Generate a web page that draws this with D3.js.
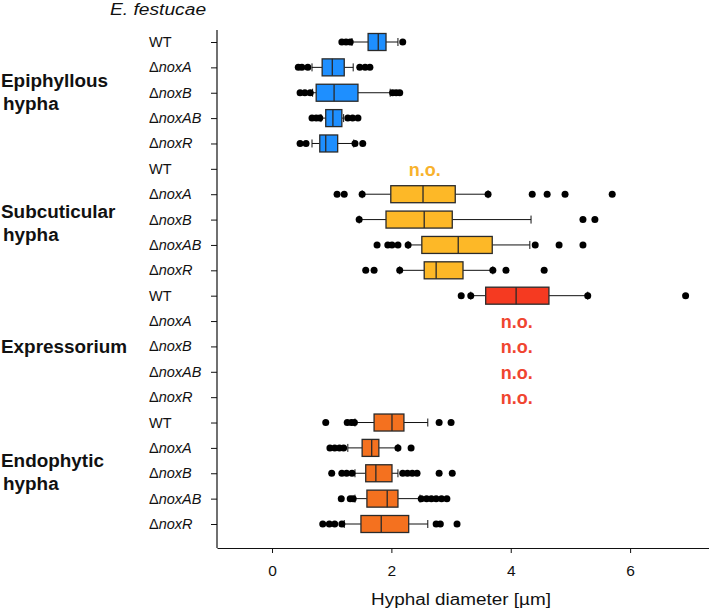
<!DOCTYPE html>
<html><head><meta charset="utf-8">
<script src="https://cdn.jsdelivr.net/npm/d3@7"></script>
<style>
body{margin:0;background:#fff}
svg{display:block}
text{font-family:Arial,"Liberation Sans",Helvetica,sans-serif;fill:#111}
</style>
</head><body>
<svg id="chart" width="709" height="610"></svg>
<script>
// ---------- DATA ----------
const tissues = [["Epiphyllous","hypha"],["Subcuticular","hypha"],["Expressorium"],["Endophytic","hypha"]];
const strains = ["WT","noxA","noxB","noxAB","noxR"];
const tissueColors = ["#1e8fff","#fdb827","#f53a21","#f4711f"];
const noTextColors = ["#1e8fff","#f8b22c","#f04530","#f4711f"];
// 20 rows: tissue-major, strain-minor; null = not observed (n.o.)
const whiskerLo = [1.34,0.67,0.68,0.82,0.67,  null,1.51,1.46,2.28,2.14,  3.33,null,null,null,null,  1.39,1.27,1.39,1.39,1.21];
const q1        = [1.61,0.84,0.74,0.90,0.80,  null,1.99,1.91,2.51,2.55,  3.58,null,null,null,null,  1.71,1.51,1.57,1.59,1.49];
const medians   = [1.78,1.01,1.04,1.02,0.90,  null,2.53,2.55,3.12,2.75,  4.09,null,null,null,null,  2.01,1.67,1.74,1.93,1.83];
const q3        = [1.91,1.21,1.44,1.17,1.10,  null,3.07,3.02,3.69,3.20,  4.64,null,null,null,null,  2.21,1.79,2.01,2.11,2.29];
const whiskerHi = [2.11,1.36,1.98,1.20,1.37,  null,3.62,4.34,4.32,3.70,  5.29,null,null,null,null,  2.61,2.11,2.11,2.48,2.61];
const outliers = [
  [1.17,1.24,1.31,2.19],
  [0.44,0.50,0.60,1.47,1.56,1.64],
  [0.47,0.55,0.64,2.02,2.08,2.14],
  [0.67,0.74,0.80,1.27,1.35,1.44],
  [0.47,0.57,1.39,1.52],
  [],
  [1.09,1.21,1.51,3.62,4.36,4.61,4.91,5.70],
  [1.46,5.21,5.41],
  [1.76,1.94,2.01,2.11,2.28,4.41,4.81,5.21],
  [1.57,1.71,2.14,3.70,3.92,4.56],
  [3.17,3.33,5.29,6.93],
  [],[],[],[],
  [0.90,1.26,1.33,1.38,2.80,3.00],
  [0.97,1.05,1.13,1.20,2.11,2.33],
  [1.00,1.17,1.25,1.34,2.19,2.27,2.35,2.43,2.80,3.02],
  [1.16,1.31,1.36,2.50,2.59,2.67,2.75,2.84,2.93],
  [0.85,0.96,1.05,1.17,2.75,2.82,3.10]
];
const noLabelPos = [null,null,null,null,null, 2.56,null,null,null,null, null,4.10,4.10,4.10,4.10, null,null,null,null,null];
const xTicks = [0,2,4,6];
const title = "E. festucae";
const xTitle = "Hyphal diameter [µm]";

// ---------- LAYOUT ----------
const svg = d3.select("#chart");
const axisX0 = 217, axisX1 = 709, axisY0 = 30, axisY1 = 548;
const x = d3.scaleLinear().domain([-0.922, 7.322]).range([axisX0, axisX1]);
const rowIds = d3.range(20);
const y = d3.scalePoint().domain(rowIds).range([42, 524]);
const boxH = 17, capH = 8, dotR = 3.5;
const labelShift = [0, 4, 0, 0];

function stretch(sel, k){
  sel.each(function(){
    const L = this.getComputedTextLength();
    d3.select(this).attr("textLength", L*k).attr("lengthAdjust","spacingAndGlyphs");
  });
}

// Title
svg.append("text").attr("x", 110).attr("y", 15)
  .style("font-size","16px").style("font-style","italic").text(title)
  .call(stretch, 1.2);

// Y axis
const yAxis = d3.axisLeft(y).tickSize(6).tickFormat("");
const gy = svg.append("g").attr("transform", `translate(${axisX0},0)`).call(yAxis);
gy.select(".domain").remove();
gy.selectAll(".tick line").attr("stroke","#111").attr("stroke-width",1);
svg.append("line").attr("x1",axisX0).attr("x2",axisX0).attr("y1",axisY0).attr("y2",axisY1)
  .attr("stroke","#111").attr("stroke-width",1.2);

// Row labels
rowIds.forEach(i=>{
  const s = strains[i%5];
  const t = svg.append("text").attr("x",149).attr("y", y(i)+5).style("font-size","14.5px");
  if(s==="WT"){ t.text("WT"); }
  else { t.append("tspan").text("Δ"); t.append("tspan").style("font-style","italic").text(s); }
});

// Tissue labels
tissues.forEach((lines,ti)=>{
  const mid = y(ti*5+2) + labelShift[ti];
  lines.forEach((ln,li)=>{
    const by = lines.length===1 ? mid+7 : mid-6+li*23;
    svg.append("text").attr("x", li===0?1:3).attr("y", by)
      .style("font-size","17.5px").style("font-weight","bold").text(ln)
      .call(stretch, 1.08);
  });
});

// X axis
const xAxis = d3.axisBottom(x).tickValues(xTicks).tickSize(5).tickSizeOuter(0).tickFormat(d3.format("d"));
const gx = svg.append("g").attr("transform", `translate(0,${axisY1})`).call(xAxis);
gx.attr("font-family", null).attr("font-size", null);
gx.select(".domain").attr("stroke","#111").attr("stroke-width",1.2);
gx.selectAll(".tick line").attr("stroke","#111");
gx.selectAll(".tick text").attr("y", 17).attr("dy","0.71em").style("font-size","15.5px").attr("fill","#111");

svg.append("text").attr("x", 461).attr("y", 605).attr("text-anchor","middle")
  .style("font-size","16px").text(xTitle).call(stretch, 1.18);

// Boxes
const gBox = svg.append("g");
rowIds.forEach(i=>{
  const col = tissueColors[Math.floor(i/5)];
  const cy = y(i);
  if(q1[i]!==null){
    const g = gBox.append("g");
    g.append("line").attr("x1",x(whiskerLo[i])).attr("x2",x(q1[i])).attr("y1",cy).attr("y2",cy).attr("stroke","#111");
    g.append("line").attr("x1",x(q3[i])).attr("x2",x(whiskerHi[i])).attr("y1",cy).attr("y2",cy).attr("stroke","#111");
    [whiskerLo[i],whiskerHi[i]].forEach(v=>{
      g.append("line").attr("x1",x(v)).attr("x2",x(v)).attr("y1",cy-capH/2).attr("y2",cy+capH/2).attr("stroke","#111");
    });
    g.append("rect").attr("x",x(q1[i])).attr("y",cy-boxH/2).attr("width",x(q3[i])-x(q1[i])).attr("height",boxH)
      .attr("fill",col).attr("stroke","#2a2a2a").attr("stroke-width",1.3);
    g.append("line").attr("x1",x(medians[i])).attr("x2",x(medians[i])).attr("y1",cy-boxH/2).attr("y2",cy+boxH/2)
      .attr("stroke","#2a2a2a").attr("stroke-width",1.3);
    g.selectAll("circle").data(outliers[i]).join("circle")
      .attr("cx",d=>x(d)).attr("cy",cy).attr("r",dotR).attr("fill","#000");
  }
  if(noLabelPos[i]!==null){
    svg.append("text").attr("x",x(noLabelPos[i])).attr("y",cy+7).attr("text-anchor","middle")
      .style("font-size","18px").style("font-weight","bold").style("fill",noTextColors[Math.floor(i/5)]).text("n.o.");
  }
});
</script>
</body></html>
